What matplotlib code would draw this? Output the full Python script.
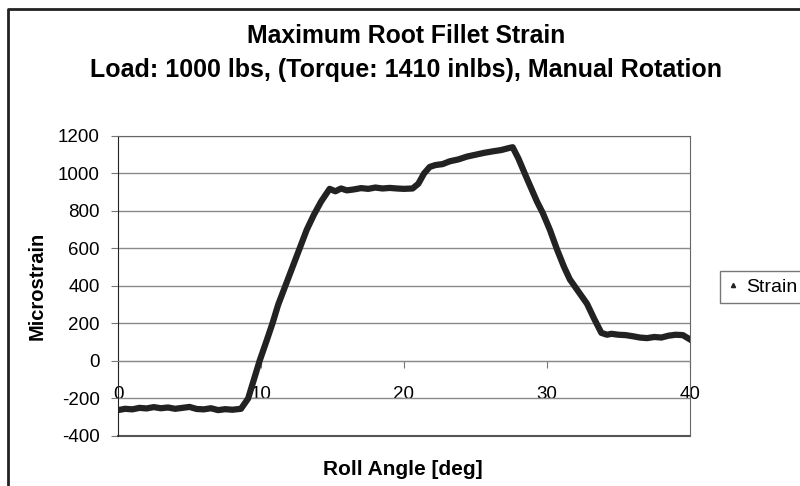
import numpy as np
from matplotlib import pyplot as plt
from matplotlib.lines import Line2D

plt.rcParams['font.family'] = ['Liberation Sans', 'DejaVu Sans']
plt.rcParams['axes.unicode_minus'] = False

# roll angle [deg] and measured strain [microstrain]
roll_angle = [0, 0.5, 1, 1.5, 2, 2.5, 3, 3.5, 4, 4.5, 5, 5.5, 6, 6.5, 7, 7.5, 8, 8.6,
              9.1, 9.5, 9.9, 10.4, 10.8, 11.2, 11.7, 12.2, 12.7, 13.2, 13.7, 14.2, 14.8,
              15.2, 15.6, 16, 16.5, 17, 17.5, 18, 18.5, 19, 19.5, 20, 20.6,
              21.0, 21.4, 21.8, 22.2, 22.7, 23.2, 23.8, 24.4, 25, 25.6, 26.2, 26.8, 27.3, 27.6,
              28.0, 28.5, 28.9, 29.3, 29.7, 30.2, 30.7, 31.2, 31.6, 32.2, 32.8, 33.3, 33.8, 34.2,
              34.5, 35, 35.5, 36, 36.5, 37, 37.5, 38, 38.5, 39, 39.5, 40]
strain = [-262, -255, -258, -250, -253, -246, -252, -248, -255, -250, -245, -256, -258, -252, -262, -257, -260, -255,
          -200, -100, 0, 110, 200, 300, 400, 500, 600, 700, 780, 850, 918,
          905, 920, 910, 915, 922, 918, 925, 920, 923, 920, 918, 920,
          945, 1000, 1035, 1045, 1050, 1065, 1075, 1090, 1100, 1110, 1118, 1125, 1135, 1140,
          1080, 990, 920, 850, 790, 700, 595, 500, 435, 370, 305, 225, 150, 140,
          145, 140, 138, 132, 125, 122, 128, 125, 135, 140, 138, 115]

x_ticks = [0, 10, 20, 30, 40]
y_ticks = [-400, -200, 0, 200, 400, 600, 800, 1000, 1200]

fig = plt.figure(figsize=(8, 4.86), dpi=100)
ax = fig.add_axes([0.1475, 0.1029, 0.715, 0.6173])

ax.plot(roll_angle, strain, color='#222222', lw=4.5, solid_joinstyle='round', label='Strain', zorder=3)

ax.set_xlim(0, 40)
ax.set_ylim(-400, 1200)
ax.set_xticks(x_ticks)
ax.set_yticks(y_ticks)
ax.yaxis.grid(True, color='#8a8a8a', lw=1)
ax.set_axisbelow(True)

# x axis crosses at zero, box kept round the plot area
ax.spines['bottom'].set_position(('data', 0))
ax.spines['bottom'].set_color('#8a8a8a')
for side in ['top', 'right']:
    ax.spines[side].set_color('#666666')
ax.spines['left'].set_color('#222222')
ax.axhline(-400, color='#555555', lw=1.5, clip_on=False)

ax.tick_params(axis='x', direction='out', length=5, pad=13, labelsize=13.5, color='#777777')
ax.tick_params(axis='y', direction='out', length=5, pad=8, labelsize=13.5, color='#777777')

ax.set_ylabel('Microstrain', fontsize=14.5, fontweight='bold', labelpad=8)
fig.text(403 / 800, 1 - 469 / 486, 'Roll Angle [deg]', ha='center', va='center',
         fontsize=15, fontweight='bold')

fig.text(406 / 800, 1 - 36 / 486, 'Maximum Root Fillet Strain', ha='center', va='center',
         fontsize=17.8, fontweight='bold')
fig.text(406 / 800, 1 - 70 / 486, 'Load: 1000 lbs, (Torque: 1410 inlbs), Manual Rotation',
         ha='center', va='center', fontsize=18, fontweight='bold')

handle = Line2D([], [], color='#222222', marker='^', markersize=3, linestyle='none')
fig.legend([handle], ['Strain'], loc='center left', bbox_to_anchor=(720 / 800, 1 - 287 / 486),
           borderaxespad=0, fontsize=14, frameon=True, fancybox=False, edgecolor='#555555',
           handlelength=0.6, handletextpad=0.4, borderpad=0.35)

# outer chart frame
fig.add_artist(Line2D([8 / 800, 8 / 800, 1], [0, 1 - 9 / 486, 1 - 9 / 486],
                      color='#222222', lw=2, transform=fig.transFigure))

fig.savefig('out.png', dpi=100)
